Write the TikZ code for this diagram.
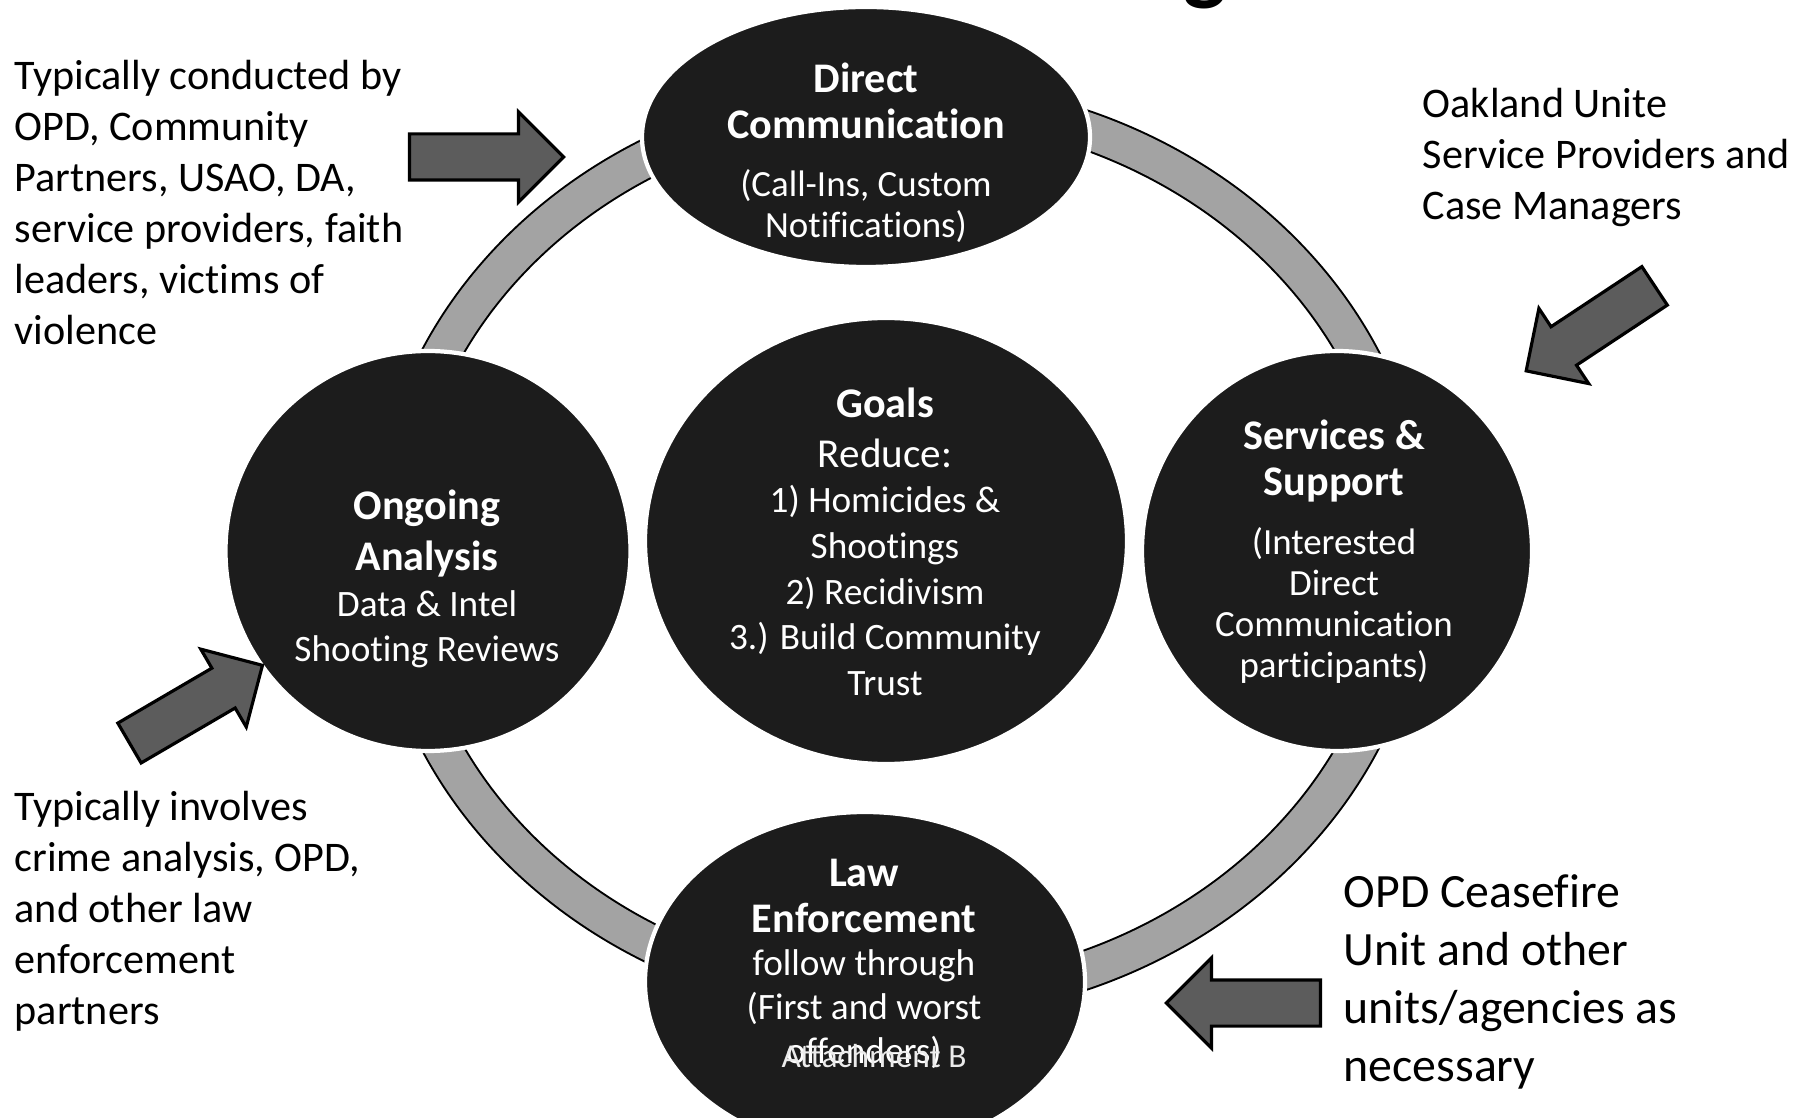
\documentclass[tikz,border=0pt]{standalone}
\usepackage{fontspec}
\setmainfont{Carlito}[Ligatures={NoCommon}]
\usetikzlibrary{shapes.geometric,shapes.arrows}

\definecolor{hubfill}{HTML}{1C1C1C}
\definecolor{ringfill}{HTML}{A3A3A3}
\definecolor{arrowfill}{HTML}{5C5C5C}

\newcommand{\hubtitle}[1]{{\bfseries\fontsize{12}{13}\selectfont #1}}

\begin{document}
\begin{tikzpicture}
  [
    hub/.style={ellipse, fill=hubfill, draw=white, line width=1.2pt, inner sep=0pt},
    hubtext/.style={text=white, align=center, inner sep=0pt, font=\fontsize{10.5}{11.7}\selectfont},
    sidetext/.style={anchor=north west, align=left, inner sep=0pt, font=\fontsize{12}{14.5}\selectfont},
    bigarrow/.style={single arrow, fill=arrowfill, draw=black, line width=0.9pt,
      minimum height=1.54cm, inner xsep=0pt, inner ysep=0.215cm, single arrow head extend=0.22cm},
  ]
  \useasboundingbox (0,0) rectangle (18.16,-11.18);

  % grey ring behind the five discs
  \coordinate (mid) at (9.00,-5.50);
  \draw[line width=0.40cm] (mid) ellipse [x radius=5.09, y radius=4.51];
  \draw[line width=0.36cm, ringfill] (mid) ellipse [x radius=5.09, y radius=4.51];

  \node[anchor=south, inner sep=0pt, font=\bfseries\fontsize{26}{30}\selectfont] (title) at (12.05,-0.10) {g};

  \node[hub, minimum width=4.48cm, minimum height=2.60cm] (direct) at (8.66,-1.37) {};
  \node[hub, minimum width=4.82cm, minimum height=4.46cm] (goals) at (8.86,-5.41) {};
  \node[hub, minimum width=4.05cm, minimum height=4.00cm] (analysis) at (4.28,-5.51) {};
  \node[hub, minimum width=3.90cm, minimum height=4.00cm] (services) at (13.37,-5.51) {};
  \node[hub, minimum width=4.40cm, minimum height=3.40cm] (law) at (8.65,-9.82) {};

  \node[hubtext] (direct-t) at (8.66,-1.53)
    {\hubtitle{Direct}\\[1.3pt]\hubtitle{Communication}\\[5pt](Call-Ins, Custom\\Notifications)};
  \node[hubtext, font=\fontsize{10.6}{13}\selectfont] (goals-t) at (8.85,-5.42)
    {\hubtitle{Goals}\\[1pt]{\fontsize{11.7}{13}\selectfont Reduce:}\\1) Homicides \&\\Shootings\\2) Recidivism\\3.) Build Community\\Trust};
  \node[hubtext, font=\fontsize{10.6}{13}\selectfont] (analysis-t) at (4.27,-5.79)
    {\hubtitle{Ongoing}\\[1.5pt]\hubtitle{Analysis}\\Data \& Intel\\Shooting Reviews};
  \node[hubtext] (services-t) at (13.34,-5.52)
    {\hubtitle{Services \&}\\[1.3pt]\hubtitle{Support}\\[5pt](Interested\\Direct\\Communication\\participants)};
  \node[hubtext, font=\fontsize{10.6}{12.5}\selectfont] (law-t) at (8.64,-9.64)
    {\hubtitle{Law}\\[0.5pt]\hubtitle{Enforcement}\\follow through\\(First and worst\\offenders)};
  \node[text=white!92!black, inner sep=0pt, font=\fontsize{9.5}{11}\selectfont] (attach) at (8.74,-10.56) {Attachment B};

  % block arrows towards the discs
  \node[bigarrow] (arr-dc) at (4.75,-1.57) {};
  \node[bigarrow, rotate=213.5] (arr-ss) at (16.0,-3.22) {};
  \node[bigarrow, rotate=30.3] (arr-oa) at (1.86,-7.10) {};
  \node[bigarrow, rotate=180] (arr-le) at (12.55,-10.03) {};

  \node[sidetext] (who-dc) at (0.14,-0.595)
    {Typically conducted by\\OPD, Community\\Partners, USAO, DA,\\service providers, faith\\leaders, victims of\\violence};
  \node[sidetext] (who-ss) at (14.22,-0.88)
    {Oakland Unite\\Service Providers and\\Case Managers};
  \node[sidetext] (who-oa) at (0.14,-7.91)
    {Typically involves\\crime analysis, OPD,\\and other law\\enforcement\\partners};
  \node[sidetext, font=\fontsize{13.6}{16.5}\selectfont] (who-le) at (13.43,-8.74)
    {OPD Ceasefire\\Unit and other\\units/agencies as\\necessary};
\end{tikzpicture}
\end{document}
